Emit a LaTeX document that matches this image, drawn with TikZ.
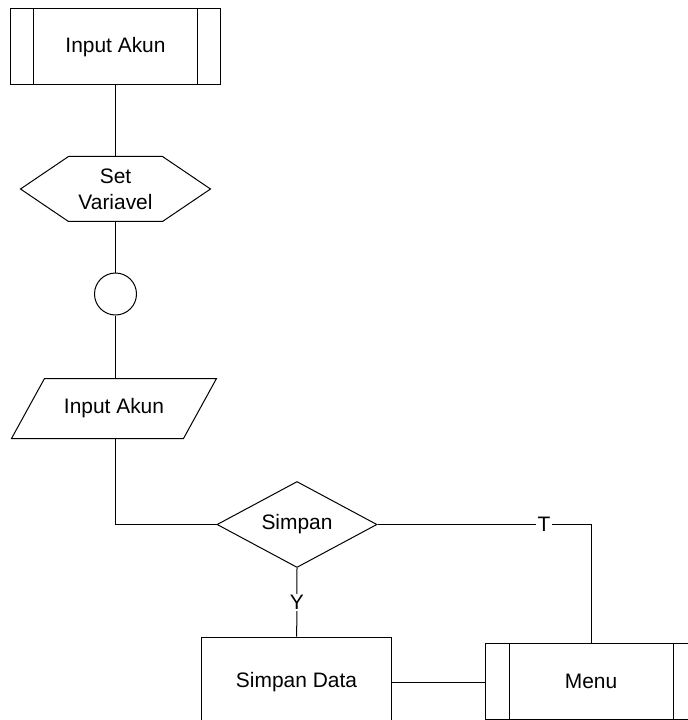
\documentclass[tikz,border=0pt]{standalone}
\usepackage{fontspec}
\setmainfont{Liberation Sans}
\usetikzlibrary{shapes.geometric, positioning, calc}

\begin{document}
\begin{tikzpicture}[
        x=0.75pt, y=-0.75pt,
        font=\fontsize{15.7}{19.5}\selectfont,
        every node/.style={line width=0.75pt},
        predef/.style={draw, rectangle, minimum width=158pt, minimum height=57pt, text centered,
            path picture={
                \draw ([xshift=17.5pt]path picture bounding box.north west) -- ([xshift=17.5pt]path picture bounding box.south west);
                \draw ([xshift=-17.5pt]path picture bounding box.north east) -- ([xshift=-17.5pt]path picture bounding box.south east);}},
        process/.style={draw, rectangle, minimum width=142pt, minimum height=67.5pt, text centered},
        prep/.style={rectangle, minimum width=141.75pt, minimum height=48pt, align=center},
        connector/.style={draw, circle, minimum size=31.5pt, inner sep=0pt},
        io/.style={rectangle, minimum width=153pt, minimum height=44.25pt, text centered},
        decision/.style={draw, diamond, aspect=1.86, minimum width=120pt, minimum height=64.5pt, inner sep=0pt, text centered},
        flow/.style={line width=0.75pt},
        lbl/.style={fill=white, inner sep=1pt}
    ]
    \useasboundingbox (0,0) rectangle (687,720);

    \node[predef] (input) at (115.5,47) {Input Akun};
    \node[prep] (setvar) at (115.5,189) {Set\\Variavel};
    \node[connector] (conn) at (115.5,294) {};
    \node[io] (inputdata) at (114,408.5) {Input Akun};
    \node[decision] (simpan) at (297,524.5) {Simpan};
    \node[process] (save) at (296.5,682) {Simpan Data};
    \node[predef] (menu) at (591,681) {Menu};

    % hexagon and parallelogram outlines
    \draw[flow] ([xshift=36pt]setvar.north west) -- ([xshift=-36pt]setvar.north east) -- (setvar.east)
        -- ([xshift=-36pt]setvar.south east) -- ([xshift=36pt]setvar.south west) -- (setvar.west) -- cycle;
    \draw[flow] ([xshift=24.75pt]inputdata.north west) -- (inputdata.north east)
        -- ([xshift=-24.75pt]inputdata.south east) -- (inputdata.south west) -- cycle;

    \draw[flow] (input) -- (setvar.north);
    \draw[flow] (setvar.south) -- (conn);
    \draw[flow] (conn) -- (conn |- inputdata.north);
    \draw[flow] (conn |- inputdata.south) |- (simpan.west);
    \draw[flow] (simpan.south) -- node[lbl] {Y} (save);
    \draw[flow] (simpan.east) -| node[lbl, pos=0.39] {T} (menu.north);
    \draw[flow] (save.east) -- (save.east -| menu.west);

    \end{tikzpicture}
\end{document}
